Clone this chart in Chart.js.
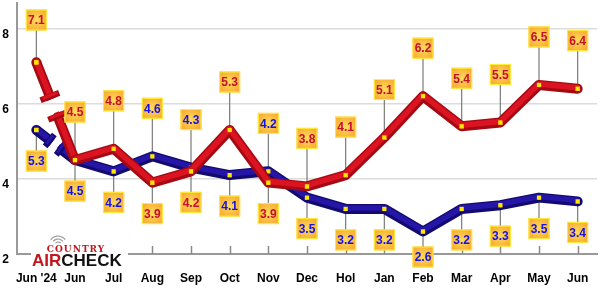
<!DOCTYPE html>
<html><head><meta charset="utf-8">
<script src="https://cdn.jsdelivr.net/npm/chart.js@4.4.1/dist/chart.umd.min.js"></script>
<style>html,body{margin:0;padding:0;background:#fff}#wrap{width:600px;height:288px;position:relative}</style>
</head><body><div id="wrap"><canvas id="c"></canvas></div>
<script>
// ─── DATA ────────────────────────────────────────────────────
const months=['Jun \'24','Jun','Jul','Aug','Sep','Oct','Nov','Dec','Hol','Jan','Feb','Mar','Apr','May','Jun'];
const redVals=[7.1,4.5,4.8,3.9,4.2,5.3,3.9,3.8,4.1,5.1,6.2,5.4,5.5,6.5,6.4];
const blueVals=[5.3,4.5,4.2,4.6,4.3,4.1,4.2,3.5,3.2,3.2,2.6,3.2,3.3,3.5,3.4];
const yTicks=[2,4,6,8];
// which side of the point each value box sits: a=above, b=below
const redSide=['a','a','a','b','b','a','b','a','a','a','a','a','a','a','a'];
const blueSide=['b','b','b','a','a','b','a','b','b','b','b','b','b','b','b'];

const RED='#a50a14',BLUE='#120a6e';

// box centre for a point — clamped so it stays on canvas
function boxAt(pt,side){const y=side==='a'?pt.y-48:pt.y+31;return{x:pt.x,y:Math.max(20,Math.min(257,y))}}

// ─── PLUGINS ─────────────────────────────────────────────────
// broken first segment (year gap) with end caps; tube highlight on the rest
const brk={id:'brk',
  beforeDatasetDraw(chart,args){
    const ds=chart.data.datasets[args.index],m=args.meta;if(!ds.brk)return;
    const p0=m.data[0],p1=m.data[1],ctx=chart.ctx;
    const dx=p1.x-p0.x,dy=p1.y-p0.y,L=Math.hypot(dx,dy),ux=dx/L,uy=dy/L,px=-uy,py=ux;
    const[t,gap,cl]=ds.brk;
    const cx=p0.x+dx*t,cy=p0.y+dy*t;
    const ax=cx-ux*gap/2,ay=cy-uy*gap/2,bx=cx+ux*gap/2,by=cy+uy*gap/2;
    ctx.save();ctx.lineCap='butt';
    [[ds.borderColor,ds.borderWidth,0],[ds.hi,ds.borderWidth-4.5,-1]].forEach(([col,lw,o])=>{
      ctx.strokeStyle=col;ctx.fillStyle=col;ctx.lineWidth=lw;
      ctx.beginPath();ctx.moveTo(p0.x,p0.y+o);ctx.lineTo(ax,ay+o);ctx.moveTo(bx,by+o);ctx.lineTo(p1.x,p1.y+o);ctx.stroke();
      ctx.beginPath();ctx.arc(p0.x,p0.y+o,lw/2,0,Math.PI*2);ctx.fill()});
    ctx.strokeStyle=ds.borderColor;ctx.lineWidth=6;
    [[ax-ux*3,ay-uy*3],[bx+ux*3,by+uy*3]].forEach(([x,y])=>{ctx.beginPath();ctx.moveTo(x-px*cl/2,y-py*cl/2);ctx.lineTo(x+px*cl/2,y+py*cl/2);ctx.stroke()});
    ctx.strokeStyle=ds.hi;ctx.lineWidth=3;
    [[ax-ux*3,ay-uy*3],[bx+ux*3,by+uy*3]].forEach(([x,y])=>{ctx.beginPath();ctx.moveTo(x-px*(cl/2-2),y-py*(cl/2-2)-1);ctx.lineTo(x+px*(cl/2-2),y+py*(cl/2-2)-1);ctx.stroke()});
    ctx.restore()},
  afterDatasetDraw(chart,args){
    const ds=chart.data.datasets[args.index],m=args.meta,ctx=chart.ctx;if(!ds.hi)return;
    ctx.save();ctx.strokeStyle=ds.hi;ctx.lineWidth=ds.borderWidth-4.5;ctx.lineCap='round';ctx.lineJoin='round';
    ctx.beginPath();m.data.slice(1).forEach((p,i)=>{i?ctx.lineTo(p.x,p.y-1):ctx.moveTo(p.x,p.y-1)});ctx.stroke();
    ctx.restore();
    m.data.forEach(p=>p.draw(ctx,chart.chartArea))}
};
// x tick marks (inside), leader lines, value boxes, logo
const deco={id:'deco',
  beforeDatasetsDraw(chart){
    const{ctx,chartArea:a,scales:{x}}=chart;
    ctx.save();ctx.strokeStyle='#8a8a8a';ctx.lineWidth=1.5;
    months.forEach((_,i)=>{const px=Math.round(x.getPixelForTick(i))+.5;ctx.beginPath();ctx.moveTo(px,a.bottom-8);ctx.lineTo(px,a.bottom);ctx.stroke()});
    ctx.strokeStyle='#7a7a7a';ctx.lineWidth=1.2;
    chart.data.datasets.forEach((ds,di)=>{chart.getDatasetMeta(di).data.forEach((pt,i)=>{
      const b=boxAt(pt,ds.sides[i]);ctx.beginPath();ctx.moveTo(b.x,b.y);ctx.lineTo(pt.x,pt.y);ctx.stroke()})});
    ctx.restore()},
  afterDatasetsDraw(chart){
    const ctx=chart.ctx;
    ctx.save();ctx.textAlign='center';ctx.textBaseline='middle';ctx.font='bold 12px "Liberation Sans"';
    chart.data.datasets.forEach((ds,di)=>{chart.getDatasetMeta(di).data.forEach((pt,i)=>{
      const b=boxAt(pt,ds.sides[i]);
      const g=ctx.createRadialGradient(b.x,b.y,1,b.x,b.y,14);g.addColorStop(0,'#ffd75a');g.addColorStop(1,'#f7a52a');
      ctx.fillStyle=g;ctx.fillRect(b.x-10.5,b.y-10.5,21,21);
      ctx.strokeStyle='#fff03a';ctx.lineWidth=1;ctx.strokeRect(b.x-10,b.y-10,20,20);
      ctx.fillStyle=ds.txt;ctx.fillText(ds.data[i].toFixed(1),b.x,b.y+1)})});
    ctx.restore()},
  afterDraw(chart){
    const ctx=chart.ctx;
    ctx.save();
    ctx.fillStyle='#fff';ctx.fillRect(31,245,97,22);
    // radio waves
    ctx.strokeStyle='#9a9a9a';ctx.lineWidth=1.2;
    [3,6,9].forEach(r=>{ctx.beginPath();ctx.arc(58,245,r,Math.PI*1.2,Math.PI*1.8);ctx.stroke()});
    ctx.textBaseline='alphabetic';ctx.textAlign='center';
    ctx.fillStyle='#c4161c';ctx.font='bold 9px "DejaVu Serif"';ctx.letterSpacing='1px';
    ctx.fillText('COUNTRY',76,252);
    ctx.letterSpacing='0px';ctx.textAlign='left';ctx.font='bold 17px "Liberation Sans"';
    ctx.fillStyle='#c4161c';ctx.fillText('AIR',32,266);
    const w=ctx.measureText('AIR').width;
    ctx.fillStyle='#111';ctx.fillText('CHECK',32+w,266);
    ctx.restore()}
};

// ─── CHART ───────────────────────────────────────────────────
const pointOpts={pointStyle:'rect',pointRadius:3,pointHoverRadius:3,pointBackgroundColor:'#ffe800',pointBorderWidth:0};
const hideFirst={borderColor:c=>c.p0DataIndex===0?'transparent':undefined};
const noPad=s=>{s.paddingTop=0;s.paddingBottom=0;s.paddingLeft=0;s.paddingRight=0};
new Chart(document.getElementById('c'),{
  type:'line',
  data:{labels:months,datasets:[
    {label:'red',data:redVals,sides:redSide,txt:'#c3102c',hi:'#dc1320',borderColor:RED,borderWidth:10,borderCapStyle:'round',borderJoinStyle:'round',
      segment:hideFirst,brk:[0.45,15,20],...pointOpts},
    {label:'blue',data:blueVals,sides:blueSide,txt:'#1212e6',hi:'#2516a8',borderColor:BLUE,borderWidth:10,borderCapStyle:'round',borderJoinStyle:'round',
      segment:hideFirst,brk:[0.49,8,15],...pointOpts}
  ]},
  options:{responsive:true,maintainAspectRatio:false,animation:false,
    layout:{padding:{left:0,right:3,top:0,bottom:0}},
    plugins:{legend:{display:false},tooltip:{enabled:false}},
    scales:{
      x:{offset:true,grid:{display:false,drawTicks:false},border:{color:'#999',width:2},
        ticks:{color:'#000',font:{family:'Liberation Sans',size:12,weight:'bold'},padding:17,maxRotation:0,autoSkip:false},
        afterFit:s=>{s.height=34;noPad(s)}},
      y:{min:2,max:8.68,grid:{color:'#dcdcdc',lineWidth:1.5,drawTicks:false},border:{color:'#999',width:2},
        afterBuildTicks:s=>{s.ticks=yTicks.map(v=>({value:v}))},
        ticks:{color:'#000',font:{family:'Liberation Sans',size:12,weight:'bold'},padding:8,labelOffset:6},
        afterFit:s=>{s.width=17;noPad(s)}}
    }},
  plugins:[brk,deco]
});
</script></body></html>
